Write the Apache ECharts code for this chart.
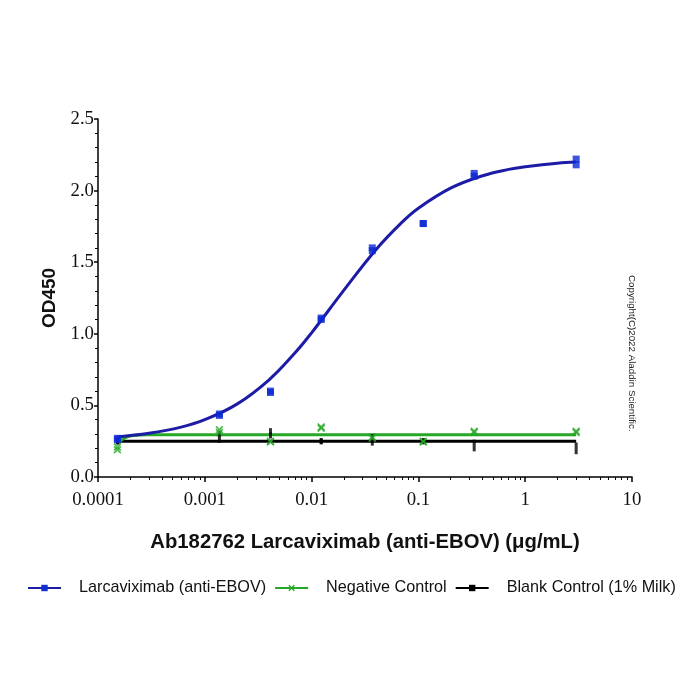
<!DOCTYPE html>
<html>
<head>
<meta charset="utf-8">
<script src="https://cdn.jsdelivr.net/npm/echarts@6/dist/echarts.min.js"></script>
<style>
  html, body { margin: 0; padding: 0; background: #fff; }
  #main { width: 700px; height: 700px; }
</style>
</head>
<body>
<div id="main"></div>
<script>
// 浓度 (µg/mL)，三倍稀释
var doses = [0.000152, 0.00137, 0.00412, 0.0123, 0.037, 0.111, 0.333, 3.0];

// Larcaviximab 测得值（每个浓度两个复孔）
var abRep1 = [0.27, 0.43, 0.59, 1.10, 1.58, 1.77, 2.10, 2.18];
var abRep2 = [0.26, 0.44, 0.60, 1.11, 1.60, 1.77, 2.12, 2.22];

// 拟合曲线（从图上读出的点）
var fitX = [0.00015, 0.0003, 0.0006, 0.001, 0.002, 0.004, 0.007, 0.01, 0.02, 0.04, 0.07, 0.1, 0.2, 0.4, 0.7, 1, 2, 3];
var fitY = [0.28, 0.305, 0.348, 0.40, 0.509, 0.679, 0.867, 1.007, 1.303, 1.587, 1.778, 1.877, 2.017, 2.104, 2.148, 2.166, 2.191, 2.199];

// Negative Control
var negRep1 = [0.19, 0.31, 0.245, 0.34, 0.27, 0.245, 0.31, 0.31];
var negRep2 = [0.21, 0.33, 0.25, 0.35, 0.28, 0.25, 0.32, 0.32];
var negFitX = [0.00015, 0.00018, 0.00022, 0.0003, 3];
var negFitY = [0.23, 0.275, 0.29, 0.295, 0.295];

// Blank Control (1% Milk)
var blankRep1 = [0.25, 0.26, 0.29, 0.25, 0.24, 0.25, 0.20, 0.18];
var blankRep2 = [0.25, 0.30, 0.32, 0.25, 0.28, 0.25, 0.24, 0.22];
var blankFitX = [0.00015, 3];
var blankFitY = [0.25, 0.25];

var yTicks = [0, 0.5, 1.0, 1.5, 2.0, 2.5];

var names = ['Larcaviximab (anti-EBOV)', 'Negative Control', 'Blank Control (1% Milk)'];
var colors = ['#1c1ca6', '#25a825', '#000000'];
var xMark = 'path://M0 1.5L1.5 0L5 3.5L8.5 0L10 1.5L6.5 5L10 8.5L8.5 10L5 6.5L1.5 10L0 8.5L3.5 5Z';
var bar = 'path://M0 0L1 0L1 2.5L0 2.5Z';

function pairs(xs, a, b) {
  var out = [];
  for (var i = 0; i < xs.length; i++) {
    out.push([xs[i], a[i]]);
    if (b) out.push([xs[i], b[i]]);
  }
  return out;
}

var chart = echarts.init(document.getElementById('main'), null, { renderer: 'canvas' });

var option = {
  backgroundColor: '#fff',
  animation: false,
  grid: { left: 98, right: 68, top: 119, bottom: 223 },
  legend: {
    top: 575,
    left: 22,
    width: 690,
    itemWidth: 33,
    itemHeight: 8,
    itemGap: 8,
    textStyle: { fontFamily: 'Liberation Sans, Arial', fontSize: 16.2, color: '#111', padding: [0, 0, 0, 13] },
    data: names
  },
  xAxis: {
    type: 'log',
    logBase: 10,
    min: 0.0001,
    max: 10,
    name: 'Ab182762 Larcaviximab (anti-EBOV) (μg/mL)',
    nameLocation: 'middle',
    nameGap: 55,
    nameTextStyle: { fontFamily: 'Liberation Sans, Arial', fontWeight: 'bold', fontSize: 20.3, color: '#111' },
    axisLine: { lineStyle: { color: '#000', width: 1.5 } },
    axisTick: { length: 5, lineStyle: { color: '#000', width: 1.5 } },
    minorTick: { show: true, splitNumber: 9, length: 3, lineStyle: { color: '#000', width: 1 } },
    axisLabel: {
      fontFamily: 'Liberation Serif, Times New Roman', fontSize: 18.8, color: '#111', margin: 14,
      formatter: function (v) {
        var m = { '0.0001': '0.0001', '0.001': '0.001', '0.01': '0.01', '0.1': '0.1', '1': '1', '10': '10' };
        return m[String(+v.toPrecision(6))] || String(v);
      }
    },
    splitLine: { show: false }
  },
  yAxis: {
    type: 'value',
    min: 0,
    max: 2.5,
    interval: 0.5,
    name: 'OD450',
    nameLocation: 'middle',
    nameGap: 38,
    nameTextStyle: { fontFamily: 'Liberation Sans, Arial', fontWeight: 'bold', fontSize: 19, color: '#111' },
    axisLine: { show: true, lineStyle: { color: '#000', width: 1.5 } },
    axisTick: { show: true, length: 4, lineStyle: { color: '#000', width: 1.5 } },
    minorTick: { show: true, splitNumber: 5, length: 3, lineStyle: { color: '#000', width: 1 } },
    axisLabel: {
      fontFamily: 'Liberation Serif, Times New Roman', fontSize: 18.8, color: '#111', margin: 4,
      formatter: function (v) { return v.toFixed(1); }
    },
    splitLine: { show: false }
  },
  graphic: [{
    type: 'text',
    left: 627,
    top: 275,
    rotation: -Math.PI / 2,
    style: { text: 'Copyright(C)2022 Aladdin Scientific.', font: '9.75px Liberation Sans, Arial', fill: '#222' }
  }],
  series: [
    {
      name: names[2], type: 'line', data: pairs(blankFitX, blankFitY), showSymbol: false,
      symbol: bar, symbolSize: 8, symbolKeepAspect: true,
      lineStyle: { color: colors[2], width: 3 }, itemStyle: { color: colors[2] }, z: 2
    },
    {
      name: names[1], type: 'line', data: pairs(negFitX, negFitY), showSymbol: false, smooth: 0.4,
      symbol: xMark, symbolSize: 8,
      lineStyle: { color: colors[1], width: 3 }, itemStyle: { color: colors[1] }, z: 3
    },
    {
      name: names[0], type: 'line', data: pairs(fitX, fitY), showSymbol: false, smooth: 0.4,
      symbol: 'rect', symbolSize: 7,
      lineStyle: { color: colors[0], width: 3 }, itemStyle: { color: '#1030cc' }, z: 4
    },
    {
      name: names[2], type: 'scatter', data: pairs(doses, blankRep1, blankRep2),
      symbol: 'rect', symbolSize: [3, 6], itemStyle: { color: colors[2] }, z: 5
    },
    {
      name: names[1], type: 'scatter', data: pairs(doses, negRep1, negRep2),
      symbol: xMark, symbolSize: 8, itemStyle: { color: colors[1] }, z: 6
    },
    {
      name: names[0], type: 'scatter', data: pairs(doses, abRep1, abRep2),
      symbol: 'rect', symbolSize: 7, itemStyle: { color: '#0a28d4' }, z: 7
    }
  ]
};

chart.setOption(option);
</script>
</body>
</html>
